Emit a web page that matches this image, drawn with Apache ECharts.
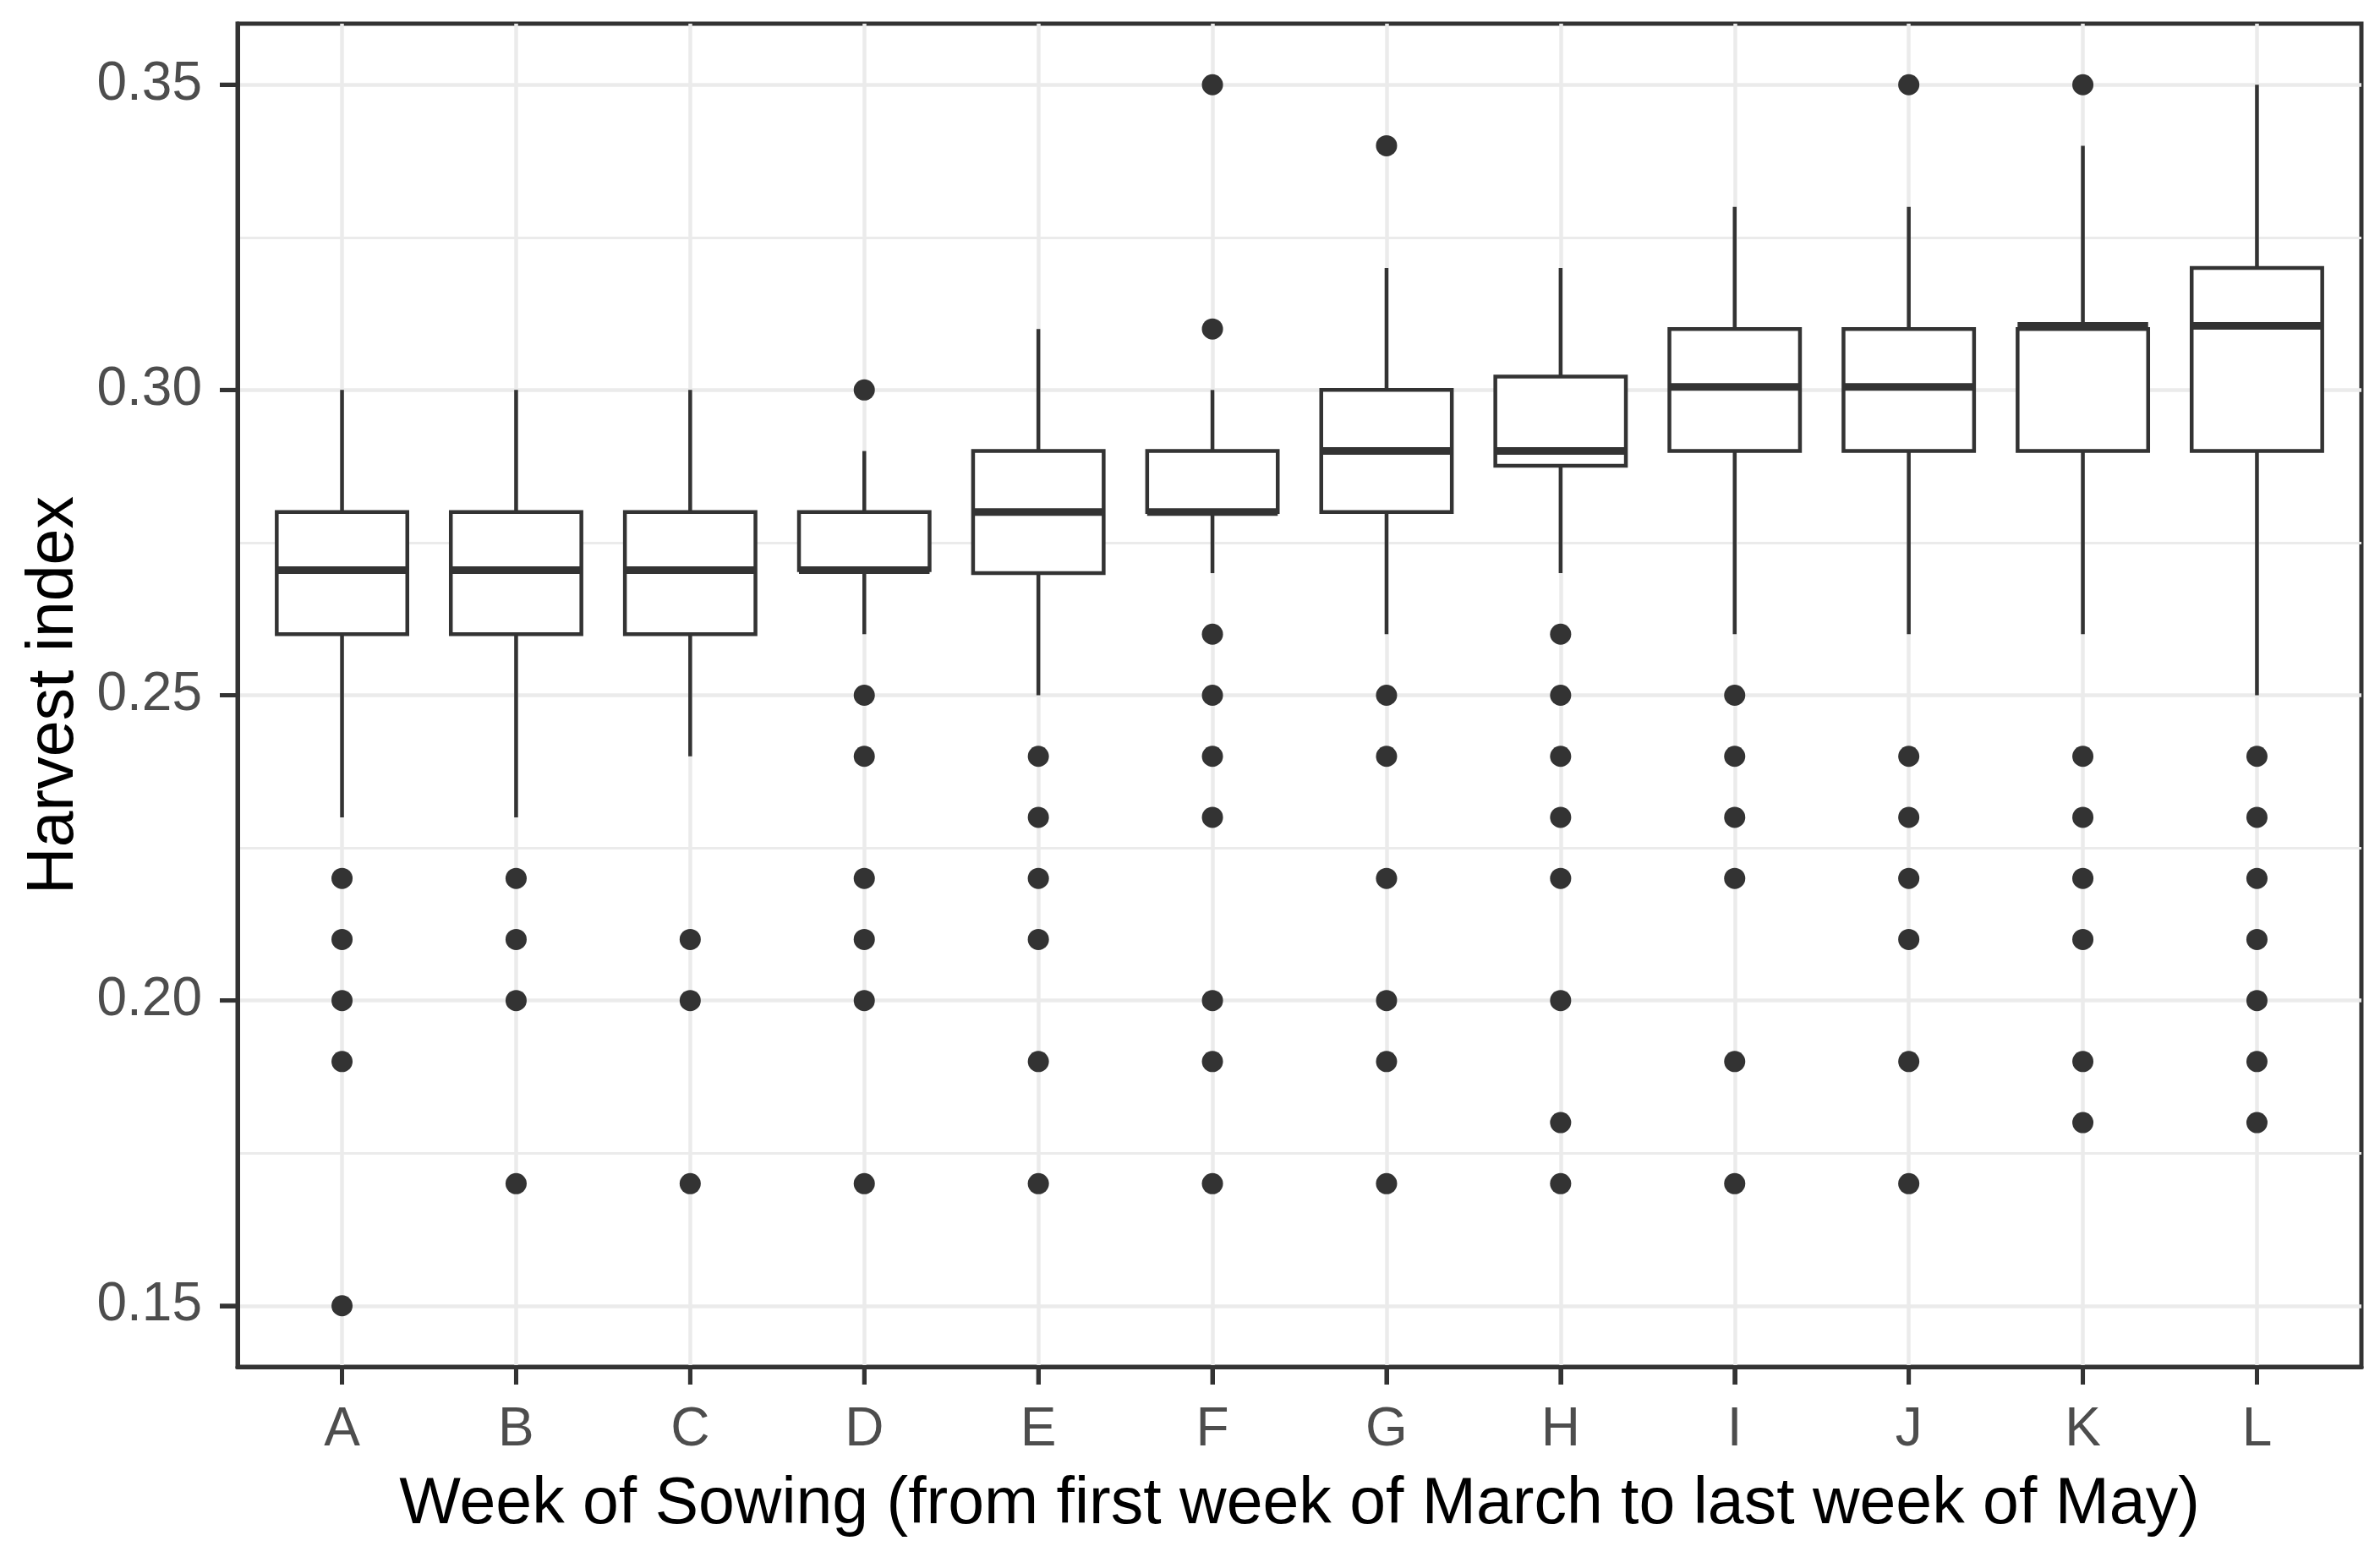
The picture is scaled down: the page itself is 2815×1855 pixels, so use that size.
<!DOCTYPE html>
<html><head><meta charset="utf-8">
<script src="https://cdn.jsdelivr.net/npm/echarts@6/dist/echarts.min.js"></script>
<style>html,body{margin:0;padding:0;background:#fff}#c{width:2815px;height:1855px}</style>
</head><body><div id="c"></div>
<script>
const categories = ['A','B','C','D','E','F','G','H','I','J','K','L'];
const whiskerLow  = [0.23, 0.23, 0.24, 0.26, 0.25, 0.27, 0.26, 0.27, 0.26, 0.26, 0.26, 0.25];
const q1          = [0.26, 0.26, 0.26, 0.2705, 0.27, 0.28, 0.28, 0.2876, 0.29, 0.29, 0.29, 0.29];
const median      = [0.2705, 0.2705, 0.2705, 0.2705, 0.28, 0.28, 0.29, 0.29, 0.3005, 0.3005, 0.3105, 0.3105];
const q3          = [0.28, 0.28, 0.28, 0.28, 0.29, 0.29, 0.30, 0.3022, 0.31, 0.31, 0.31, 0.32];
const whiskerHigh = [0.30, 0.30, 0.30, 0.29, 0.31, 0.30, 0.32, 0.32, 0.33, 0.33, 0.34, 0.35];
const outliersA = [0.22, 0.21, 0.20, 0.19, 0.15];
const outliersB = [0.22, 0.21, 0.20, 0.17];
const outliersC = [0.21, 0.20, 0.17];
const outliersD = [0.30, 0.25, 0.24, 0.22, 0.21, 0.20, 0.17];
const outliersE = [0.24, 0.23, 0.22, 0.21, 0.19, 0.17];
const outliersF = [0.35, 0.31, 0.26, 0.25, 0.24, 0.23, 0.20, 0.19, 0.17];
const outliersG = [0.34, 0.25, 0.24, 0.22, 0.20, 0.19, 0.17];
const outliersH = [0.26, 0.25, 0.24, 0.23, 0.22, 0.20, 0.18, 0.17];
const outliersI = [0.25, 0.24, 0.23, 0.22, 0.19, 0.17];
const outliersJ = [0.35, 0.24, 0.23, 0.22, 0.21, 0.19, 0.17];
const outliersK = [0.35, 0.24, 0.23, 0.22, 0.21, 0.19, 0.18];
const outliersL = [0.24, 0.23, 0.22, 0.21, 0.20, 0.19, 0.18];
const yTicks = [0.15, 0.20, 0.25, 0.30, 0.35];
const yMinorTicks = [0.175, 0.225, 0.275, 0.325];
const xTitle = 'Week of Sowing (from first week of March to last week of May)';
const yTitle = 'Harvest index';

const allOutliers = [outliersA, outliersB, outliersC, outliersD, outliersE, outliersF,
  outliersG, outliersH, outliersI, outliersJ, outliersK, outliersL];
const catIdx = categories.map((c, i) => i);
const boxData = categories.map((c, i) => [i, whiskerLow[i], q1[i], median[i], q3[i], whiskerHigh[i]]);
const outlierData = [];
allOutliers.forEach((arr, i) => arr.forEach(v => outlierData.push([i, v])));

const FONT = 'Liberation Sans, Arial, sans-serif';
const DARK = '#333333';
const BOX_HALF = 0.375;
const X_MIN = -0.6, X_MAX = 11.6, Y_MIN = 0.14, Y_MAX = 0.36;
const TICK_LEN = 21;

const chart = echarts.init(document.getElementById('c'), null, {renderer: 'canvas'});
chart.setOption({
  backgroundColor: '#ffffff',
  animation: false,
  grid: {left: 281, right: 22, top: 28, bottom: 238, show: true, borderColor: DARK, borderWidth: 5},
  xAxis: {
    type: 'value', min: X_MIN, max: X_MAX,
    axisLine: {show: true, onZero: false, lineStyle: {color: DARK, width: 5}},
    axisTick: {show: true, length: TICK_LEN, customValues: catIdx, lineStyle: {color: DARK, width: 5}},
    axisLabel: {customValues: catIdx, formatter: v => categories[Math.round(v)], color: '#4D4D4D',
      fontSize: 64, fontFamily: FONT, margin: 43},
    splitLine: {show: true, lineStyle: {color: '#EBEBEB', width: 4.5}},
    name: xTitle, nameLocation: 'middle', nameGap: 125,
    nameTextStyle: {fontSize: 77, color: '#000', fontFamily: FONT}
  },
  yAxis: [{
    type: 'value', min: Y_MIN, max: Y_MAX, position: 'left',
    axisLine: {show: true, onZero: false, lineStyle: {color: DARK, width: 5}},
    axisTick: {show: true, length: TICK_LEN, customValues: yTicks, lineStyle: {color: DARK, width: 5}},
    axisLabel: {customValues: yTicks, formatter: v => v.toFixed(2), color: '#4D4D4D',
      fontSize: 64, fontFamily: FONT, margin: 42},
    splitLine: {show: true, lineStyle: {color: '#EBEBEB', width: 4.5}},
    name: yTitle, nameLocation: 'middle', nameGap: 175,
    nameTextStyle: {fontSize: 77, color: '#000', fontFamily: FONT}
  }, {
    type: 'value', min: Y_MIN, max: Y_MAX, position: 'right',
    axisLine: {show: false, onZero: false},
    axisTick: {show: false, customValues: yMinorTicks},
    axisLabel: {show: false, customValues: yMinorTicks},
    splitLine: {show: true, lineStyle: {color: '#EBEBEB', width: 3}}
  }],
  series: [{
    type: 'scatter', data: outlierData, symbolSize: 25,
    itemStyle: {color: DARK, opacity: 1}, z: 3
  }, {
    type: 'custom', data: boxData, z: 4,
    encode: {x: 0, y: [1, 2, 3, 4, 5]},
    renderItem: function (params, api) {
      const i = api.value(0);
      const lo = api.value(1), a = api.value(2), m = api.value(3), b = api.value(4), hi = api.value(5);
      const pLo = api.coord([i, lo]), pA = api.coord([i, a]), pB = api.coord([i, b]), pHi = api.coord([i, hi]);
      const pM = api.coord([i, m]);
      const left = api.coord([i - BOX_HALF, m])[0], right = api.coord([i + BOX_HALF, m])[0];
      const ls = {stroke: DARK, lineWidth: 4.5};
      return {type: 'group', children: [
        {type: 'line', shape: {x1: pLo[0], y1: pLo[1], x2: pA[0], y2: pA[1]}, style: ls},
        {type: 'line', shape: {x1: pB[0], y1: pB[1], x2: pHi[0], y2: pHi[1]}, style: ls},
        {type: 'rect', shape: {x: left, y: pB[1], width: right - left, height: pA[1] - pB[1]},
          style: {fill: '#ffffff', stroke: DARK, lineWidth: 4.5}},
        {type: 'line', shape: {x1: left, y1: pM[1], x2: right, y2: pM[1]}, style: {stroke: DARK, lineWidth: 9}}
      ]};
    }
  }]
});

// Axis ticks also placed through the library's own scales (convertToPixel)
const tickEls = [];
const tickStyle = {stroke: DARK, lineWidth: 5};
catIdx.forEach(i => {
  const p = chart.convertToPixel({gridIndex: 0}, [i, Y_MIN]);
  tickEls.push({type: 'line', z: 100, silent: true,
    shape: {x1: p[0], y1: p[1], x2: p[0], y2: p[1] + TICK_LEN}, style: tickStyle});
});
yTicks.forEach(v => {
  const p = chart.convertToPixel({gridIndex: 0}, [X_MIN, v]);
  tickEls.push({type: 'line', z: 100, silent: true,
    shape: {x1: p[0] - TICK_LEN, y1: p[1], x2: p[0], y2: p[1]}, style: tickStyle});
});
chart.setOption({graphic: tickEls});
</script></body></html>
